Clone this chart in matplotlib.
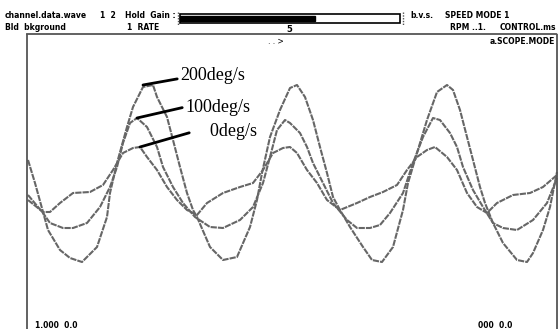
import matplotlib.pyplot as plt

# sample times and amplitudes of the three traces (one screen, ~3.5 cycles)
t_200 = [1, 8, 21, 33, 43, 55, 70, 80, 83, 90,
         100, 106, 116, 126, 130, 140, 146, 153, 160, 166,
         170, 183, 196, 210, 223, 230, 235, 243, 253, 263,
         270, 278, 286, 293, 300, 306, 313, 323, 336, 345,
         355, 366, 376, 381, 390, 400, 410, 420, 426, 433,
         440, 446, 453, 458, 466, 476, 490, 500, 506, 516,
         523, 530]
a_200 = [55, 32, -15, -35, -43, -47, -32, -2, 22, 52,
         88, 108, 128, 130, 118, 98, 75, 48, 22, 5,
         -2, -32, -45, -42, -12, 15, 42, 78, 105, 127,
         130, 118, 95, 68, 42, 18, 5, -12, -32, -45,
         -47, -32, 5, 32, 62, 95, 123, 130, 125, 105,
         78, 55, 28, 12, -8, -28, -45, -47, -38, -15,
         8, 43]

t_100 = [1, 16, 23, 36, 46, 60, 73, 83, 90, 96,
         103, 110, 120, 130, 136, 146, 156, 168, 183, 196,
         213, 226, 236, 243, 250, 258, 263, 273, 280, 286,
         296, 306, 320, 330, 343, 353, 363, 376, 386, 396,
         406, 413, 423, 430, 436, 446, 456, 466, 476, 490,
         506, 520, 530]
a_100 = [20, 2, -8, -13, -13, -8, 8, 28, 48, 72,
         92, 97, 88, 68, 48, 28, 12, -2, -12, -13,
         -5, 8, 32, 58, 85, 95, 92, 82, 68, 52,
         32, 12, -5, -13, -13, -10, 2, 22, 52, 78,
         97, 95, 82, 68, 48, 25, 8, -8, -13, -15,
         -5, 12, 37]

t_0 = [1, 16, 23, 33, 46, 63, 76, 86, 96, 106,
       113, 120, 130, 140, 150, 160, 170, 180, 196, 213,
       226, 236, 246, 256, 263, 270, 280, 290, 300, 313,
       330, 343, 356, 370, 380, 390, 400, 408, 420, 430,
       440, 450, 460, 470, 486, 503, 516, 530]
a_0 = [15, 3, 3, 12, 22, 23, 30, 45, 62, 67,
       68, 58, 45, 28, 15, 5, 0, 12, 22, 28,
       32, 45, 62, 67, 68, 62, 45, 32, 15, 5,
       12, 18, 23, 30, 45, 58, 65, 68, 58, 45,
       22, 8, 2, 12, 20, 22, 28, 40]

labels = ['200deg/s', '100deg/s', '0deg/s']

W, H = 560, 329
fig = plt.figure(figsize=(W / 100, H / 100), dpi=100)
fig.patch.set_facecolor('white')

# scope screen area
ax = fig.add_axes([27 / W, 0, 530 / W, 1 - 34 / H])
ax.set_xlim(0, 530)
ax.set_ylim(-114, 181)
ax.set_xticks([])
ax.set_yticks([])
for side in ['left', 'right', 'top']:
    ax.spines[side].set_color('#555555')
    ax.spines[side].set_linestyle((0, (1, 1)))
    ax.spines[side].set_linewidth(1.3)
ax.spines['bottom'].set_visible(False)

for t, a in [(t_200, a_200), (t_100, a_100), (t_0, a_0)]:
    ax.plot(t, a, color='#666666', lw=1.5, linestyle=(0, (3, 0.5)),
            solid_joinstyle='round', dash_joinstyle='round', clip_on=False)

# labels with leader lines
lead = dict(arrowstyle='-', lw=2, color='black', shrinkA=0, shrinkB=0)
ax.annotate(labels[0], xy=(t_200[12], a_200[12] + 2), xytext=(153, 140),
            ha='left', va='center', fontsize=13, family='Liberation Serif',
            arrowprops=dict(lead, relpos=(0.0, 0.3)))
ax.annotate(labels[1], xy=(t_100[11], a_100[11]), xytext=(158, 108),
            ha='left', va='center', fontsize=13, family='Liberation Serif',
            arrowprops=dict(lead, relpos=(0.0, 0.5)))
ax.annotate('    ' + labels[2], xy=(t_0[10], a_0[10]), xytext=(165, 83),
            ha='left', va='center', fontsize=13, family='Liberation Serif',
            arrowprops=dict(lead, relpos=(0.0, 0.5)))

# header of the scope screen
hdr = dict(fontsize=5.5, fontweight='bold', color='black', va='center',
           family='DejaVu Sans')


def ftext(x, y, s, **kw):
    fig.text(x / W, 1 - y / H, s, **{**hdr, **kw})


ftext(5, 15, 'channel.data.wave')
ftext(100, 15, '1  2')
ftext(125, 15, 'Hold  Gain :')
ftext(410, 15, 'b.v.s.')
ftext(445, 15, 'SPEED MODE 1')
ftext(5, 28, 'Bld  bkground')
ftext(127, 28, '1  RATE')
ftext(450, 28, 'RPM ..1.')
ftext(500, 28, 'CONTROL.ms')
ftext(490, 42, 'a.SCOPE.MODE')
ftext(268, 42, '. . >', fontweight='normal')
ftext(286, 29, '5', fontsize=6)
ftext(35, 325, '1.000  0.0')
ftext(478, 325, '000  0.0')

# progress bar in the header
bar = fig.add_axes([0, 0, 1, 1], zorder=-1)
bar.set_xlim(0, W)
bar.set_ylim(H, 0)
bar.axis('off')
bar.add_patch(plt.Rectangle((180, 14), 220, 9, fill=False, ec='black', lw=1.2))
bar.add_patch(plt.Rectangle((180, 15.5), 135, 5.5, color='black'))
bar.plot([178, 178], [12, 25], color='#555555', lw=1, linestyle=(0, (1, 1)))
bar.plot([403, 403], [12, 25], color='#555555', lw=1, linestyle=(0, (1, 1)))

fig.savefig('out.png', dpi=100, facecolor='white')
